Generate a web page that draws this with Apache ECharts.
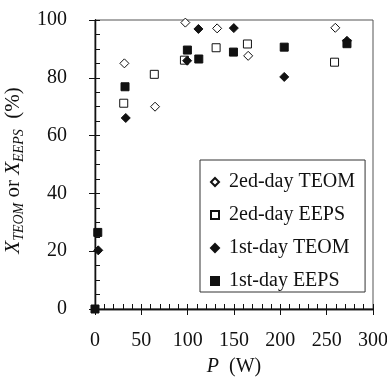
<!DOCTYPE html>
<html>
	<head>
		<meta charset="utf-8">
		<title>X vs P</title>
		<script src="https://cdn.jsdelivr.net/npm/echarts@6/dist/echarts.min.js"></script>
		<style>
			html, body { margin: 0; padding: 0; background: #fff; }
			#main { width: 387px; height: 381px; }
		</style>
	</head>
	<body>
		<div id="main"></div>
		<script>
			// values
			var teom2P = [31.7, 64.8, 97.5, 131.8, 165.3, 259.3]
			var teom2X = [85.0, 70.0, 99.1, 97.1, 87.6, 97.3]
			var eeps2P = [31, 64, 96.5, 130.7, 164.5, 258.5]
			var eeps2X = [71.2, 81.2, 86.1, 90.4, 91.7, 85.4]
			var teom1P = [3.5, 33.2, 99.4, 111.6, 149.8, 204.2, 271.9]
			var teom1X = [20.3, 66.1, 85.9, 96.9, 97.2, 80.3, 92.8]
			var eeps1P = [0, 3, 32.4, 99.7, 112, 149.4, 204.2, 271.9]
			var eeps1X = [0, 26.5, 76.9, 89.6, 86.5, 88.9, 90.6, 91.8]
			var names = ['2ed-day TEOM', '2ed-day EEPS', '1st-day TEOM', '1st-day EEPS']

			var font = 'Liberation Serif'
			var black = '#111'

			function pairs(p, x) {
				var out = []
				for (var i = 0; i < p.length; i++) {
					out.push([p[i], x[i]])
				}
				return out
			}

			function series(name, data, symbol, filled) {
				return {
					name: name,
					type: 'scatter',
					xAxisIndex: 0,
					yAxisIndex: 0,
					symbol: symbol,
					symbolSize: symbol == 'diamond' ? 9 : 8,
					data: data,
					itemStyle: {
						color: filled ? black : '#fff',
						borderColor: black,
						borderWidth: 1,
						opacity: 1
					},
					emphasis: { disabled: true }
				}
			}

			// two axes share each side: one carries the outer ticks and labels, the other the inner and minor ticks
			function axisBase(extra) {
				var a = {
					min: 0,
					axisLine: { show: true, onZero: false, lineStyle: { color: black, width: 1.3 } },
					splitLine: { show: false },
					offset: 0
				}
				for (var k in extra) a[k] = extra[k]
				return a
			}

			var myChart = echarts.init(document.getElementById('main'))
			var option = {
				animation: false,
				backgroundColor: '#fff',
				textStyle: { fontFamily: font, color: black },
				grid: {
					left: 95, right: 14, top: 20, bottom: 72,
					outerBoundsMode: 'none',
					show: true, borderColor: '#555', borderWidth: 1, backgroundColor: 'transparent'
				},
				legend: {
					orient: 'vertical',
					left: 200, top: 160,
					width: 150,
					padding: [11, 10, 0, 10],
					itemWidth: 8, itemHeight: 8,
					itemGap: 11,
					backgroundColor: '#fff',
					borderColor: '#333', borderWidth: 1, borderRadius: 0,
					data: names,
					textStyle: { fontFamily: font, fontSize: 20, color: black, lineHeight: 22, padding: [0, 0, 0, 5] }
				},
				xAxis: [
					axisBase({
						type: 'value', max: 300, interval: 50, position: 'bottom',
						axisTick: { show: true, inside: false, length: 6, lineStyle: { color: black } },
						axisLabel: { fontFamily: font, fontSize: 20, color: black, margin: 22 },
						name: '{i|P}{n|  (W)}',
						nameLocation: 'middle', nameGap: 48,
						nameTextStyle: {
							rich: {
								i: { fontFamily: font, fontSize: 20, fontStyle: 'italic', color: black },
								n: { fontFamily: font, fontSize: 20, color: black }
							}
						}
					}),
					axisBase({
						type: 'value', max: 300, interval: 50, position: 'bottom',
						axisTick: { show: true, inside: true, length: 5, lineStyle: { color: black } },
						minorTick: { show: true, splitNumber: 5, length: 5, lineStyle: { color: black } },
						axisLabel: { show: false }
					})
				],
				yAxis: [
					axisBase({
						type: 'value', max: 100, interval: 20, position: 'left',
						axisTick: { show: true, inside: false, length: 6, lineStyle: { color: black } },
						axisLabel: { fontFamily: font, fontSize: 20, color: black, margin: 28 },
						name: '{i|X}{s|TEOM}{n| or }{i|X}{s|EEPS}{n|  (%)}',
						nameLocation: 'middle', nameGap: 60, nameRotate: 90,
						nameTextStyle: {
							padding: [0, 12, 0, 0],
							rich: {
								i: { fontFamily: font, fontSize: 21, fontStyle: 'italic', color: black, verticalAlign: 'top', lineHeight: 21 },
								s: { fontFamily: font, fontSize: 14, fontStyle: 'italic', color: black, verticalAlign: 'top', lineHeight: 14, padding: [9, 0, 0, 0] },
								n: { fontFamily: font, fontSize: 21, color: black, verticalAlign: 'top', lineHeight: 21 }
							}
						}
					}),
					axisBase({
						type: 'value', max: 100, interval: 20, position: 'left',
						axisTick: { show: true, inside: true, length: 5, lineStyle: { color: black } },
						minorTick: { show: true, splitNumber: 4, length: 5, lineStyle: { color: black } },
						axisLabel: { show: false }
					})
				],
				series: [
					series(names[0], pairs(teom2P, teom2X), 'diamond', false),
					series(names[1], pairs(eeps2P, eeps2X), 'rect', false),
					series(names[2], pairs(teom1P, teom1X), 'diamond', true),
					series(names[3], pairs(eeps1P, eeps1X), 'rect', true)
				]
			}
			myChart.setOption(option)
		</script>
	</body>
</html>
